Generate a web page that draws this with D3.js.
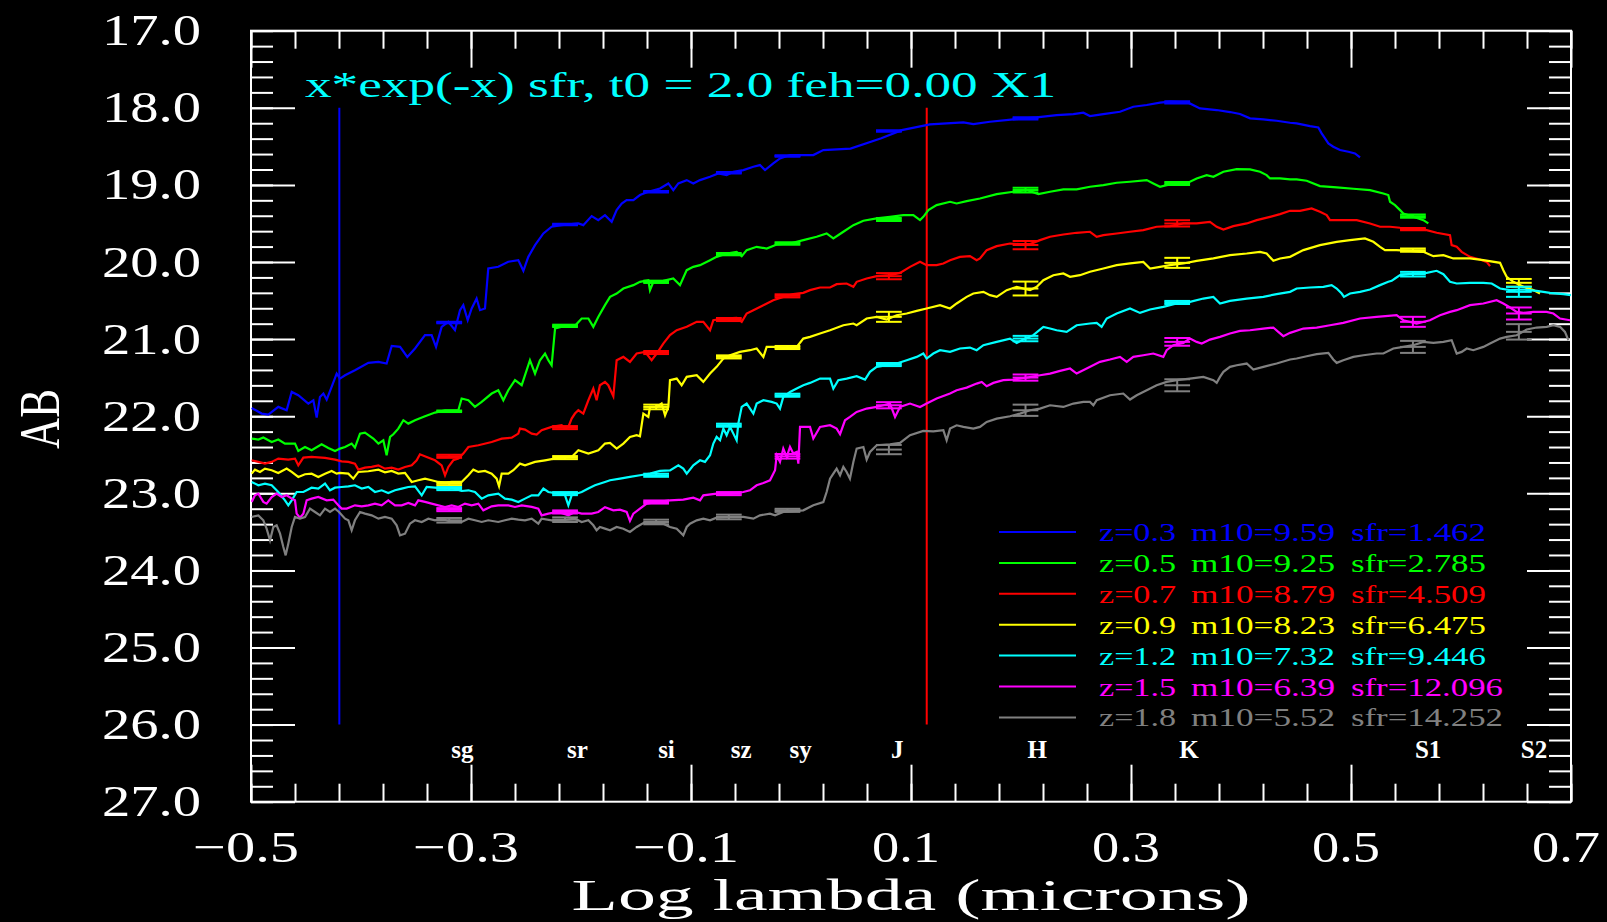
<!DOCTYPE html>
<html>
<head>
<meta charset="utf-8">
<script src="https://cdn.jsdelivr.net/npm/d3@7/dist/d3.min.js"></script>
<style>
html,body{margin:0;padding:0;background:#000;}
svg{display:block;}
</style>
</head>
<body>
<svg id="chart" width="1607" height="922"></svg>
<script>
// ---------------- DATA ----------------
const titleText = "x*exp(-x) sfr, t0 = 2.0 feh=0.00 X1";
const xAxisTitle = "Log lambda (microns)";
const yAxisTitle = "AB";

const xTickValues = [-0.5, -0.3, -0.1, 0.1, 0.3, 0.5, 0.7];
const xTickLabels = ["\u22120.5", "\u22120.3", "\u22120.1", "0.1", "0.3", "0.5", "0.7"];
const yTickValues = [17, 18, 19, 20, 21, 22, 23, 24, 25, 26, 27];
const yTickLabels = ["17.0", "18.0", "19.0", "20.0", "21.0", "22.0", "23.0", "24.0", "25.0", "26.0", "27.0"];

const bandNames = ["sg", "sr", "si", "sz", "sy", "J", "H", "K", "S1", "S2"];
const bandX = [-0.3198, -0.2145, -0.1317, -0.0656, -0.0123, 0.0799, 0.2041, 0.342, 0.5563, 0.6526];
const bandLabelMag = 26.43;
const bandHalfWidth = 0.0117;

const markerLineX = [-0.4197, 0.1143];
const markerLineMag = [18.0, 26.0];

const legendZ = ["z=0.3", "z=0.5", "z=0.7", "z=0.9", "z=1.2", "z=1.5", "z=1.8"];
const legendM10 = ["m10=9.59", "m10=9.25", "m10=8.79", "m10=8.23", "m10=7.32", "m10=6.39", "m10=5.52"];
const legendSfr = ["sfr=1.462", "sfr=2.785", "sfr=4.509", "sfr=6.475", "sfr=9.446", "sfr=12.096", "sfr=14.252"];

const specZ03 = [[-0.4994,21.893],[-0.4903,21.966],[-0.4842,21.979],[-0.4752,21.879],[-0.4676,21.923],[-0.4630,21.685],[-0.4570,21.728],[-0.4479,21.836],[-0.4433,21.793],[-0.4403,22.018],[-0.4373,21.750],[-0.4342,21.706],[-0.4312,21.784],[-0.4267,21.620],[-0.4221,21.447],[-0.4191,21.512],[-0.4145,21.469],[-0.4055,21.404],[-0.3933,21.308],[-0.3842,21.295],[-0.3767,21.317],[-0.3721,21.088],[-0.3645,21.101],[-0.3579,21.231],[-0.3509,21.122],[-0.3418,20.949],[-0.3358,20.949],[-0.3318,21.101],[-0.3267,20.841],[-0.3206,20.776],[-0.3146,20.884],[-0.3100,20.625],[-0.3070,20.560],[-0.3030,20.755],[-0.2994,20.603],[-0.2949,20.473],[-0.2918,20.625],[-0.2873,20.603],[-0.2843,20.084],[-0.2752,20.062],[-0.2661,19.997],[-0.2570,19.976],[-0.2524,20.114],[-0.2479,19.933],[-0.2418,19.781],[-0.2342,19.630],[-0.2267,19.543],[-0.2176,19.522],[-0.2024,19.500],[-0.1979,19.522],[-0.1903,19.405],[-0.1843,19.457],[-0.1782,19.392],[-0.1721,19.478],[-0.1676,19.327],[-0.1630,19.241],[-0.1585,19.197],[-0.1524,19.197],[-0.1464,19.132],[-0.1388,19.089],[-0.1282,19.046],[-0.1206,18.981],[-0.1161,19.068],[-0.1115,18.981],[-0.1039,18.938],[-0.0979,18.981],[-0.0918,18.938],[-0.0827,18.894],[-0.0752,18.851],[-0.0676,18.873],[-0.0615,18.830],[-0.0524,18.808],[-0.0433,18.765],[-0.0373,18.743],[-0.0327,18.808],[-0.0252,18.721],[-0.0191,18.656],[-0.0100,18.613],[0.0021,18.613],[0.0112,18.613],[0.0203,18.548],[0.0450,18.529],[0.0730,18.396],[0.0916,18.290],[0.1173,18.215],[0.1324,18.202],[0.1476,18.189],[0.1567,18.211],[0.1718,18.181],[0.1930,18.150],[0.2143,18.124],[0.2324,18.094],[0.2476,18.081],[0.2567,18.064],[0.2627,18.107],[0.2748,18.081],[0.2900,18.051],[0.3021,17.986],[0.3143,17.964],[0.3264,17.934],[0.3355,17.921],[0.3521,17.934],[0.3627,18.008],[0.3779,18.029],[0.3900,18.055],[0.3991,18.081],[0.4082,18.137],[0.4203,18.150],[0.4324,18.168],[0.4446,18.194],[0.4506,18.202],[0.4627,18.237],[0.4703,18.254],[0.4733,18.332],[0.4764,18.397],[0.4794,18.462],[0.4839,18.505],[0.4900,18.548],[0.4976,18.570],[0.5036,18.592],[0.5082,18.644]];

const specZ05 = [[-0.4994,22.290],[-0.4933,22.303],[-0.4888,22.277],[-0.4812,22.334],[-0.4752,22.303],[-0.4691,22.355],[-0.4600,22.355],[-0.4570,22.451],[-0.4509,22.399],[-0.4449,22.442],[-0.4358,22.364],[-0.4297,22.412],[-0.4236,22.451],[-0.4191,22.420],[-0.4145,22.399],[-0.4085,22.355],[-0.4055,22.407],[-0.4009,22.226],[-0.3964,22.213],[-0.3888,22.290],[-0.3842,22.355],[-0.3797,22.312],[-0.3767,22.507],[-0.3736,22.269],[-0.3706,22.234],[-0.3661,22.161],[-0.3615,22.052],[-0.3570,22.096],[-0.3509,22.052],[-0.3418,22.001],[-0.3327,21.953],[-0.3236,21.923],[-0.3115,21.923],[-0.3085,21.771],[-0.3024,21.793],[-0.2964,21.879],[-0.2903,21.815],[-0.2812,21.706],[-0.2752,21.663],[-0.2706,21.793],[-0.2661,21.663],[-0.2600,21.533],[-0.2539,21.598],[-0.2464,21.274],[-0.2418,21.447],[-0.2373,21.274],[-0.2327,21.187],[-0.2297,21.274],[-0.2267,21.339],[-0.2236,20.863],[-0.2145,20.828],[-0.2055,20.828],[-0.1994,20.733],[-0.1933,20.733],[-0.1888,20.841],[-0.1842,20.711],[-0.1782,20.560],[-0.1736,20.452],[-0.1676,20.409],[-0.1615,20.344],[-0.1524,20.300],[-0.1464,20.257],[-0.1388,20.236],[-0.1373,20.365],[-0.1342,20.257],[-0.1252,20.244],[-0.1161,20.214],[-0.1100,20.300],[-0.1039,20.106],[-0.0979,20.063],[-0.0918,20.041],[-0.0827,19.976],[-0.0767,19.933],[-0.0676,19.890],[-0.0585,19.868],[-0.0539,19.924],[-0.0494,19.846],[-0.0403,19.803],[-0.0312,19.825],[-0.0221,19.773],[-0.0100,19.760],[0.0021,19.716],[0.0142,19.673],[0.0233,19.630],[0.0294,19.695],[0.0385,19.608],[0.0476,19.522],[0.0567,19.465],[0.0688,19.435],[0.0809,19.414],[0.0930,19.392],[0.1021,19.392],[0.1082,19.457],[0.1112,19.414],[0.1158,19.327],[0.1233,19.262],[0.1355,19.219],[0.1415,19.241],[0.1506,19.210],[0.1627,19.176],[0.1779,19.119],[0.1930,19.089],[0.2052,19.067],[0.2158,19.119],[0.2264,19.089],[0.2385,19.059],[0.2506,19.059],[0.2627,19.024],[0.2749,19.003],[0.2870,18.972],[0.2991,18.959],[0.3143,18.938],[0.3203,18.981],[0.3264,19.024],[0.3324,19.003],[0.3415,18.981],[0.3536,18.959],[0.3597,18.916],[0.3688,18.873],[0.3749,18.894],[0.3840,18.830],[0.3961,18.795],[0.4082,18.799],[0.4173,18.830],[0.4233,18.873],[0.4264,18.916],[0.4355,18.916],[0.4446,18.929],[0.4506,18.929],[0.4597,18.946],[0.4718,19.016],[0.4870,19.033],[0.5021,19.050],[0.5173,19.067],[0.5294,19.111],[0.5339,19.132],[0.5355,19.219],[0.5400,19.262],[0.5446,19.327],[0.5476,19.370],[0.5567,19.414],[0.5658,19.457],[0.5703,19.500]];

const specZ07 = [[-0.4994,22.572],[-0.4933,22.593],[-0.4873,22.615],[-0.4812,22.593],[-0.4752,22.550],[-0.4661,22.563],[-0.4600,22.550],[-0.4570,22.637],[-0.4524,22.537],[-0.4449,22.528],[-0.4327,22.541],[-0.4236,22.563],[-0.4176,22.585],[-0.4115,22.593],[-0.4055,22.615],[-0.4024,22.693],[-0.3964,22.667],[-0.3903,22.658],[-0.3842,22.637],[-0.3782,22.680],[-0.3721,22.667],[-0.3661,22.693],[-0.3600,22.658],[-0.3539,22.637],[-0.3494,22.572],[-0.3464,22.494],[-0.3403,22.528],[-0.3327,22.572],[-0.3267,22.637],[-0.3236,22.767],[-0.3206,22.658],[-0.3161,22.572],[-0.3115,22.550],[-0.3070,22.485],[-0.3024,22.399],[-0.2933,22.377],[-0.2812,22.334],[-0.2721,22.291],[-0.2630,22.278],[-0.2570,22.226],[-0.2555,22.161],[-0.2509,22.174],[-0.2448,22.226],[-0.2403,22.238],[-0.2358,22.182],[-0.2267,22.139],[-0.2176,22.118],[-0.2145,22.161],[-0.2115,22.139],[-0.2085,22.031],[-0.2055,21.966],[-0.2024,21.923],[-0.1979,21.966],[-0.1933,21.793],[-0.1888,21.641],[-0.1858,21.793],[-0.1828,21.598],[-0.1782,21.555],[-0.1752,21.598],[-0.1706,21.741],[-0.1676,21.274],[-0.1615,21.231],[-0.1555,21.296],[-0.1494,21.187],[-0.1418,21.166],[-0.1358,21.274],[-0.1312,21.187],[-0.1252,21.058],[-0.1191,20.949],[-0.1130,20.885],[-0.1039,20.841],[-0.0948,20.776],[-0.0888,20.776],[-0.0827,20.885],[-0.0797,20.755],[-0.0706,20.733],[-0.0585,20.724],[-0.0539,20.776],[-0.0494,20.668],[-0.0433,20.625],[-0.0342,20.560],[-0.0252,20.495],[-0.0161,20.452],[-0.0070,20.417],[0.0021,20.400],[0.0082,20.365],[0.0173,20.331],[0.0264,20.331],[0.0324,20.288],[0.0415,20.279],[0.0476,20.322],[0.0506,20.257],[0.0597,20.214],[0.0688,20.184],[0.0809,20.171],[0.0900,20.141],[0.0991,20.063],[0.1082,19.998],[0.1142,20.041],[0.1233,20.041],[0.1294,20.019],[0.1355,19.976],[0.1445,19.933],[0.1536,19.924],[0.1597,19.976],[0.1627,19.954],[0.1688,19.846],[0.1779,19.794],[0.1900,19.760],[0.1991,19.768],[0.2082,19.768],[0.2173,19.716],[0.2264,19.673],[0.2385,19.643],[0.2506,19.621],[0.2627,19.608],[0.2688,19.673],[0.2749,19.652],[0.2870,19.630],[0.2991,19.608],[0.3112,19.587],[0.3233,19.543],[0.3355,19.535],[0.3476,19.500],[0.3597,19.500],[0.3718,19.479],[0.3779,19.543],[0.3840,19.578],[0.3930,19.535],[0.4052,19.500],[0.4143,19.457],[0.4264,19.414],[0.4355,19.379],[0.4446,19.336],[0.4536,19.336],[0.4642,19.305],[0.4718,19.349],[0.4779,19.392],[0.4809,19.457],[0.4930,19.457],[0.5052,19.457],[0.5173,19.500],[0.5264,19.543],[0.5355,19.543],[0.5446,19.556],[0.5567,19.565],[0.5688,19.587],[0.5779,19.621],[0.5900,19.652],[0.5915,19.781],[0.5961,19.803],[0.6006,19.868],[0.6082,19.933],[0.6173,19.967],[0.6233,19.998],[0.6264,20.054]];

const specZ09 = [[-0.4994,22.745],[-0.4964,22.693],[-0.4918,22.723],[-0.4873,22.680],[-0.4812,22.701],[-0.4752,22.736],[-0.4676,22.680],[-0.4630,22.723],[-0.4570,22.788],[-0.4509,22.753],[-0.4449,22.745],[-0.4388,22.788],[-0.4327,22.745],[-0.4267,22.710],[-0.4221,22.745],[-0.4191,22.736],[-0.4115,22.745],[-0.4070,22.810],[-0.4024,22.723],[-0.3933,22.714],[-0.3842,22.693],[-0.3782,22.727],[-0.3721,22.710],[-0.3661,22.745],[-0.3600,22.736],[-0.3539,22.853],[-0.3479,22.831],[-0.3418,22.810],[-0.3358,22.831],[-0.3297,22.853],[-0.3236,22.862],[-0.3176,22.853],[-0.3085,22.853],[-0.3024,22.766],[-0.2979,22.693],[-0.2933,22.723],[-0.2873,22.710],[-0.2812,22.745],[-0.2767,22.810],[-0.2745,22.909],[-0.2721,22.745],[-0.2661,22.745],[-0.2615,22.701],[-0.2555,22.615],[-0.2509,22.637],[-0.2418,22.593],[-0.2327,22.572],[-0.2206,22.541],[-0.2085,22.528],[-0.2024,22.442],[-0.1933,22.485],[-0.1842,22.442],[-0.1782,22.355],[-0.1736,22.347],[-0.1676,22.420],[-0.1615,22.355],[-0.1555,22.269],[-0.1494,22.247],[-0.1464,22.260],[-0.1433,21.966],[-0.1388,22.009],[-0.1373,21.880],[-0.1312,21.880],[-0.1267,21.836],[-0.1236,21.988],[-0.1206,21.880],[-0.1191,21.533],[-0.1130,21.512],[-0.1085,21.598],[-0.1039,21.490],[-0.0948,21.469],[-0.0888,21.555],[-0.0827,21.447],[-0.0767,21.360],[-0.0706,21.252],[-0.0645,21.209],[-0.0555,21.166],[-0.0464,21.144],[-0.0403,21.122],[-0.0342,21.231],[-0.0312,21.101],[-0.0221,21.101],[-0.0130,21.122],[-0.0039,21.101],[0.0021,20.993],[0.0082,20.971],[0.0173,20.928],[0.0264,20.885],[0.0385,20.820],[0.0476,20.798],[0.0506,20.820],[0.0597,20.733],[0.0688,20.711],[0.0779,20.746],[0.0870,20.690],[0.0961,20.668],[0.1052,20.634],[0.1142,20.603],[0.1264,20.560],[0.1355,20.603],[0.1415,20.538],[0.1506,20.452],[0.1567,20.409],[0.1658,20.387],[0.1718,20.430],[0.1779,20.452],[0.1870,20.365],[0.1961,20.322],[0.2082,20.365],[0.2143,20.322],[0.2203,20.236],[0.2294,20.171],[0.2385,20.149],[0.2446,20.192],[0.2536,20.171],[0.2627,20.127],[0.2749,20.084],[0.2870,20.041],[0.2991,20.019],[0.3112,19.998],[0.3173,20.084],[0.3264,20.063],[0.3355,20.041],[0.3476,20.019],[0.3597,19.985],[0.3749,19.954],[0.3900,19.911],[0.4052,19.890],[0.4173,19.868],[0.4233,19.890],[0.4294,19.985],[0.4355,19.954],[0.4446,19.933],[0.4567,19.846],[0.4718,19.781],[0.4870,19.738],[0.4991,19.716],[0.5127,19.695],[0.5203,19.738],[0.5264,19.803],[0.5309,19.846],[0.5415,19.846],[0.5537,19.855],[0.5658,19.868],[0.5749,19.924],[0.5840,19.911],[0.5930,19.954],[0.6082,19.954],[0.6203,19.976],[0.6355,20.011],[0.6385,20.106],[0.6415,20.192],[0.6476,20.257],[0.6567,20.322],[0.6658,20.365],[0.6718,20.409]];

const specZ12 = [[-0.4994,22.853],[-0.4933,22.896],[-0.4873,22.874],[-0.4812,22.896],[-0.4752,22.983],[-0.4691,23.091],[-0.4661,23.156],[-0.4630,23.091],[-0.4585,22.983],[-0.4524,22.983],[-0.4449,22.927],[-0.4388,22.939],[-0.4327,22.874],[-0.4282,22.961],[-0.4236,22.927],[-0.4176,22.918],[-0.4115,22.909],[-0.4055,22.896],[-0.3994,22.939],[-0.3933,22.918],[-0.3873,22.983],[-0.3812,22.961],[-0.3752,22.996],[-0.3691,22.961],[-0.3630,22.939],[-0.3570,22.918],[-0.3509,22.909],[-0.3448,23.026],[-0.3403,22.918],[-0.3327,22.927],[-0.3236,22.939],[-0.3176,22.927],[-0.3085,22.970],[-0.3024,22.961],[-0.2964,22.983],[-0.2903,23.069],[-0.2843,23.026],[-0.2752,23.004],[-0.2691,23.069],[-0.2630,23.082],[-0.2570,23.112],[-0.2509,23.069],[-0.2448,23.026],[-0.2388,23.026],[-0.2342,22.939],[-0.2297,22.983],[-0.2206,23.004],[-0.2145,23.026],[-0.2115,23.156],[-0.2085,23.026],[-0.1994,22.983],[-0.1933,22.939],[-0.1873,22.896],[-0.1782,22.853],[-0.1736,22.831],[-0.1645,22.810],[-0.1555,22.788],[-0.1464,22.766],[-0.1373,22.745],[-0.1282,22.710],[-0.1191,22.702],[-0.1115,22.637],[-0.1070,22.680],[-0.1039,22.745],[-0.0979,22.637],[-0.0918,22.572],[-0.0873,22.593],[-0.0827,22.507],[-0.0797,22.355],[-0.0767,22.269],[-0.0736,22.312],[-0.0706,22.161],[-0.0676,22.247],[-0.0645,22.139],[-0.0615,22.226],[-0.0585,22.312],[-0.0570,22.096],[-0.0539,21.879],[-0.0494,21.836],[-0.0433,21.966],[-0.0403,21.836],[-0.0342,21.793],[-0.0267,21.815],[-0.0221,21.836],[-0.0191,21.901],[-0.0161,21.750],[-0.0100,21.685],[-0.0039,21.642],[0.0021,21.598],[0.0082,21.568],[0.0173,21.512],[0.0264,21.512],[0.0294,21.642],[0.0339,21.533],[0.0415,21.512],[0.0506,21.482],[0.0582,21.525],[0.0627,21.425],[0.0688,21.360],[0.0779,21.339],[0.0870,21.317],[0.0961,21.274],[0.1052,21.231],[0.1112,21.187],[0.1142,21.252],[0.1203,21.187],[0.1264,21.144],[0.1355,21.166],[0.1445,21.122],[0.1536,21.110],[0.1597,21.144],[0.1658,21.079],[0.1779,21.036],[0.1900,20.993],[0.1961,21.049],[0.2021,21.006],[0.2112,20.949],[0.2203,20.841],[0.2264,20.863],[0.2324,20.885],[0.2415,20.906],[0.2506,20.820],[0.2627,20.798],[0.2688,20.789],[0.2733,20.841],[0.2779,20.733],[0.2870,20.668],[0.2991,20.603],[0.3082,20.660],[0.3173,20.616],[0.3294,20.582],[0.3415,20.538],[0.3536,20.517],[0.3658,20.474],[0.3749,20.452],[0.3809,20.538],[0.3900,20.504],[0.4052,20.474],[0.4203,20.452],[0.4324,20.417],[0.4446,20.387],[0.4506,20.344],[0.4627,20.331],[0.4749,20.322],[0.4824,20.300],[0.4870,20.344],[0.4915,20.409],[0.4936,20.452],[0.4991,20.409],[0.5082,20.387],[0.5173,20.357],[0.5264,20.300],[0.5339,20.257],[0.5370,20.244],[0.5400,20.214],[0.5446,20.171],[0.5567,20.149],[0.5688,20.140],[0.5779,20.114],[0.5840,20.158],[0.5900,20.257],[0.5961,20.279],[0.6082,20.270],[0.6203,20.270],[0.6279,20.279],[0.6355,20.344],[0.6446,20.365],[0.6567,20.357],[0.6688,20.374],[0.6809,20.400],[0.6931,20.417],[0.7000,20.430]];

const specZ15 = [[-0.4994,23.112],[-0.4964,23.026],[-0.4933,23.004],[-0.4888,23.112],[-0.4858,23.134],[-0.4812,23.048],[-0.4767,23.004],[-0.4721,23.048],[-0.4676,23.026],[-0.4630,23.069],[-0.4600,23.091],[-0.4585,23.264],[-0.4555,23.316],[-0.4524,23.264],[-0.4494,23.091],[-0.4449,23.069],[-0.4388,23.048],[-0.4312,23.091],[-0.4252,23.082],[-0.4206,23.156],[-0.4176,23.199],[-0.4130,23.199],[-0.4055,23.156],[-0.3994,23.169],[-0.3933,23.156],[-0.3873,23.134],[-0.3812,23.156],[-0.3752,23.091],[-0.3691,23.156],[-0.3630,23.156],[-0.3570,23.125],[-0.3509,23.156],[-0.3479,23.091],[-0.3418,23.112],[-0.3358,23.134],[-0.3297,23.156],[-0.3236,23.177],[-0.3176,23.156],[-0.3115,23.177],[-0.3055,23.134],[-0.2994,23.156],[-0.2933,23.134],[-0.2888,23.221],[-0.2812,23.169],[-0.2752,23.156],[-0.2661,23.156],[-0.2600,23.177],[-0.2539,23.156],[-0.2448,23.177],[-0.2388,23.199],[-0.2358,23.286],[-0.2297,23.264],[-0.2206,23.242],[-0.2115,23.286],[-0.2055,23.242],[-0.1994,23.264],[-0.1903,23.264],[-0.1843,23.242],[-0.1782,23.180],[-0.1706,23.221],[-0.1646,23.212],[-0.1585,23.242],[-0.1555,23.359],[-0.1524,23.264],[-0.1464,23.199],[-0.1403,23.134],[-0.1312,23.113],[-0.1191,23.091],[-0.1070,23.082],[-0.0979,23.056],[-0.0918,23.091],[-0.0888,23.026],[-0.0767,23.004],[-0.0645,23.004],[-0.0524,22.983],[-0.0464,22.961],[-0.0403,22.896],[-0.0342,22.866],[-0.0282,22.831],[-0.0236,22.701],[-0.0221,22.507],[-0.0191,22.593],[-0.0161,22.420],[-0.0130,22.528],[-0.0100,22.399],[-0.0070,22.485],[-0.0039,22.464],[-0.0024,22.615],[-0.0009,22.139],[0.0082,22.139],[0.0112,22.290],[0.0173,22.139],[0.0264,22.117],[0.0324,22.161],[0.0355,22.234],[0.0400,22.053],[0.0445,22.009],[0.0506,21.944],[0.0597,21.901],[0.0688,21.880],[0.0749,21.858],[0.0809,21.836],[0.0855,22.009],[0.0900,21.880],[0.0991,21.836],[0.1082,21.880],[0.1142,21.836],[0.1233,21.771],[0.1355,21.706],[0.1415,21.663],[0.1506,21.629],[0.1597,21.577],[0.1643,21.555],[0.1688,21.611],[0.1749,21.568],[0.1839,21.533],[0.1930,21.525],[0.2052,21.499],[0.2173,21.469],[0.2264,21.447],[0.2355,21.412],[0.2446,21.382],[0.2506,21.447],[0.2597,21.382],[0.2718,21.295],[0.2809,21.265],[0.2900,21.231],[0.2961,21.295],[0.3021,21.231],[0.3112,21.209],[0.3203,21.187],[0.3294,21.231],[0.3324,21.144],[0.3385,21.079],[0.3476,21.049],[0.3536,20.993],[0.3597,21.036],[0.3643,21.058],[0.3718,21.006],[0.3809,20.971],[0.3900,20.928],[0.3991,20.893],[0.4082,20.885],[0.4203,20.863],[0.4294,20.850],[0.4339,20.906],[0.4385,20.962],[0.4446,20.919],[0.4567,20.863],[0.4688,20.850],[0.4809,20.820],[0.4930,20.789],[0.5082,20.733],[0.5233,20.711],[0.5415,20.690],[0.5476,20.755],[0.5597,20.798],[0.5718,20.755],[0.5809,20.690],[0.5900,20.647],[0.5961,20.625],[0.6082,20.560],[0.6203,20.538],[0.6324,20.495],[0.6385,20.538],[0.6446,20.590],[0.6506,20.647],[0.6567,20.660],[0.6658,20.647],[0.6779,20.647],[0.6840,20.668],[0.6900,20.733],[0.6991,20.755]];

const specZ18 = [[-0.4994,23.307],[-0.4933,23.286],[-0.4888,23.350],[-0.4858,23.458],[-0.4827,23.610],[-0.4797,23.437],[-0.4767,23.415],[-0.4736,23.524],[-0.4706,23.697],[-0.4685,23.805],[-0.4661,23.653],[-0.4630,23.437],[-0.4600,23.307],[-0.4555,23.329],[-0.4509,23.307],[-0.4464,23.199],[-0.4418,23.242],[-0.4373,23.286],[-0.4327,23.199],[-0.4282,23.242],[-0.4236,23.199],[-0.4200,23.242],[-0.4145,23.329],[-0.4115,23.350],[-0.4085,23.480],[-0.4055,23.350],[-0.4009,23.242],[-0.3964,23.264],[-0.3903,23.286],[-0.3842,23.329],[-0.3782,23.307],[-0.3721,23.329],[-0.3676,23.415],[-0.3645,23.545],[-0.3600,23.524],[-0.3555,23.394],[-0.3509,23.350],[-0.3448,23.372],[-0.3388,23.329],[-0.3327,23.350],[-0.3267,23.329],[-0.3206,23.359],[-0.3146,23.372],[-0.3085,23.372],[-0.3024,23.329],[-0.2964,23.350],[-0.2903,23.372],[-0.2843,23.350],[-0.2752,23.372],[-0.2691,23.350],[-0.2630,23.329],[-0.2570,23.342],[-0.2509,23.350],[-0.2448,23.329],[-0.2388,23.394],[-0.2358,23.329],[-0.2267,23.350],[-0.2176,23.350],[-0.2055,23.329],[-0.1994,23.372],[-0.1933,23.350],[-0.1888,23.415],[-0.1858,23.480],[-0.1828,23.437],[-0.1782,23.458],[-0.1736,23.480],[-0.1676,23.437],[-0.1615,23.459],[-0.1555,23.502],[-0.1494,23.437],[-0.1433,23.385],[-0.1342,23.385],[-0.1252,23.394],[-0.1191,23.437],[-0.1130,23.459],[-0.1070,23.545],[-0.1039,23.437],[-0.1009,23.394],[-0.0948,23.351],[-0.0888,23.329],[-0.0827,23.351],[-0.0767,23.316],[-0.0645,23.307],[-0.0524,23.307],[-0.0433,23.329],[-0.0373,23.286],[-0.0282,23.264],[-0.0236,23.286],[-0.0161,23.242],[-0.0039,23.229],[0.0021,23.221],[0.0112,23.156],[0.0203,23.113],[0.0233,22.983],[0.0264,22.810],[0.0294,22.745],[0.0324,22.680],[0.0355,22.766],[0.0385,22.658],[0.0415,22.723],[0.0445,22.810],[0.0476,22.593],[0.0506,22.420],[0.0567,22.399],[0.0597,22.563],[0.0627,22.464],[0.0688,22.377],[0.0809,22.364],[0.0900,22.347],[0.0991,22.247],[0.1112,22.191],[0.1203,22.196],[0.1294,22.182],[0.1324,22.312],[0.1355,22.161],[0.1415,22.118],[0.1476,22.139],[0.1567,22.161],[0.1627,22.139],[0.1688,22.074],[0.1779,22.031],[0.1900,22.001],[0.1991,21.966],[0.2082,21.923],[0.2173,21.901],[0.2264,21.858],[0.2385,21.880],[0.2476,21.836],[0.2567,21.815],[0.2627,21.815],[0.2658,21.858],[0.2688,21.793],[0.2809,21.728],[0.2930,21.706],[0.2991,21.784],[0.3052,21.728],[0.3143,21.663],[0.3233,21.599],[0.3324,21.555],[0.3415,21.533],[0.3536,21.512],[0.3658,21.490],[0.3749,21.533],[0.3779,21.568],[0.3809,21.490],[0.3840,21.425],[0.3900,21.360],[0.3961,21.339],[0.4052,21.317],[0.4112,21.395],[0.4203,21.360],[0.4324,21.317],[0.4446,21.265],[0.4506,21.252],[0.4597,21.222],[0.4688,21.196],[0.4794,21.179],[0.4839,21.265],[0.4870,21.308],[0.4930,21.274],[0.5021,21.231],[0.5112,21.209],[0.5233,21.187],[0.5294,21.187],[0.5385,21.122],[0.5476,21.101],[0.5567,21.079],[0.5658,21.036],[0.5749,21.049],[0.5840,21.036],[0.5915,21.014],[0.5961,21.187],[0.6006,21.166],[0.6052,21.122],[0.6112,21.144],[0.6203,21.101],[0.6264,21.058],[0.6355,20.993],[0.6415,20.971],[0.6506,20.950],[0.6597,20.876],[0.6688,20.850],[0.6779,20.841],[0.6840,20.820],[0.6900,20.841],[0.6945,20.906],[0.6976,21.014]];

// photometry per band (sg, sr, si, sz, sy, J, H, K, S1, S2); null = not shown
const photZ03 = [20.785, 19.513, 19.089, 18.842, 18.626, 18.300, 18.137, 17.930, null, null];
const photZ05 = [21.936, 20.828, 20.257, 19.898, 19.760, 19.448, 19.067, 18.981, 19.405, null];
const photZ07 = [22.520, 22.148, 21.174, 20.746, 20.439, 20.184, 19.781, 19.500, 19.574, null];
const photZ09 = [22.875, 22.537, 21.880, 21.231, 21.109, 20.711, 20.344, 20.011, 19.846, 20.270];
const photZ12 = [22.939, 23.004, 22.766, 22.117, 21.728, 21.330, 20.993, 20.525, 20.158, 20.387];
const photZ15 = [23.212, 23.242, 23.113, 23.004, 22.520, 21.858, 21.499, 21.036, 20.776, 20.668];
const photZ18 = [23.350, 23.342, 23.372, 23.307, 23.221, 22.433, 21.923, 21.599, 21.101, 20.906];

const errZ03 = [0.01, 0.01, 0.01, 0.01, 0.01, 0.01, 0.015, 0.015, null, null];
const errZ05 = [0.01, 0.015, 0.015, 0.015, 0.015, 0.02, 0.03, 0.02, 0.02, null];
const errZ07 = [0.02, 0.02, 0.02, 0.02, 0.02, 0.04, 0.054, 0.04, 0.015, null];
const errZ09 = [0.02, 0.02, 0.03, 0.02, 0.02, 0.065, 0.09, 0.065, 0.02, 0.05];
const errZ12 = [0.02, 0.02, 0.02, 0.02, 0.02, 0.02, 0.035, 0.02, 0.03, 0.065];
const errZ15 = [0.02, 0.02, 0.02, 0.02, 0.03, 0.04, 0.04, 0.05, 0.065, 0.078];
const errZ18 = [0.03, 0.03, 0.03, 0.03, 0.02, 0.06, 0.073, 0.078, 0.078, 0.10];

// ---------------- STYLE ----------------
const seriesColors = ["#0000ff", "#00ff00", "#ff0000", "#ffff00", "#00ffff", "#ff00ff", "#808080"];
const markerLineColors = ["#0000ff", "#ff0000"];
const serif = "'Liberation Serif','DejaVu Serif',serif";

// ---------------- DRAW ----------------
const svg = d3.select("#chart");
svg.append("rect").attr("width", 1607).attr("height", 922).attr("fill", "#000");

const x = d3.scaleLinear().domain([-0.5, 0.7]).range([251, 1571]);
const y = d3.scaleLinear().domain([17, 27]).range([30.7, 801.7]);
const [X0, X1] = x.range();
const [Y0, Y1] = y.range();

svg.append("defs").append("clipPath").attr("id", "plotclip")
  .append("rect").attr("x", X0).attr("y", Y0).attr("width", X1 - X0).attr("height", Y1 - Y0);

const xMinor = d3.range(0, 31).map(i => -0.5 + i * 0.04);
const yMinor = d3.range(0, 51).map(i => 17 + i * 0.2);

function styleAxis(g) {
  g.select(".domain").remove();
  g.selectAll(".tick line").attr("stroke", "#fff").attr("stroke-width", 2);
  g.selectAll(".tick text").remove();
}
svg.append("g").attr("transform", `translate(0,${Y1})`)
  .call(d3.axisBottom(x).tickValues(xMinor).tickSize(-18).tickFormat("")).call(styleAxis);
svg.append("g").attr("transform", `translate(0,${Y1})`)
  .call(d3.axisBottom(x).tickValues(xTickValues).tickSize(-37).tickFormat("")).call(styleAxis);
svg.append("g").attr("transform", `translate(0,${Y0})`)
  .call(d3.axisTop(x).tickValues(xMinor).tickSize(-18).tickFormat("")).call(styleAxis);
svg.append("g").attr("transform", `translate(0,${Y0})`)
  .call(d3.axisTop(x).tickValues(xTickValues).tickSize(-37).tickFormat("")).call(styleAxis);
svg.append("g").attr("transform", `translate(${X0},0)`)
  .call(d3.axisLeft(y).tickValues(yMinor).tickSize(-22).tickFormat("")).call(styleAxis);
svg.append("g").attr("transform", `translate(${X0},0)`)
  .call(d3.axisLeft(y).tickValues(yTickValues).tickSize(-44).tickFormat("")).call(styleAxis);
svg.append("g").attr("transform", `translate(${X1},0)`)
  .call(d3.axisRight(y).tickValues(yMinor).tickSize(-22).tickFormat("")).call(styleAxis);
svg.append("g").attr("transform", `translate(${X1},0)`)
  .call(d3.axisRight(y).tickValues(yTickValues).tickSize(-44).tickFormat("")).call(styleAxis);

svg.append("rect").attr("x", X0).attr("y", Y0).attr("width", X1 - X0).attr("height", Y1 - Y0)
  .attr("fill", "none").attr("stroke", "#fff").attr("stroke-width", 2);

// tick labels
svg.append("g").selectAll("text").data(yTickValues).join("text")
  .attr("x", 201).attr("y", d => y(d) + 14.5)
  .attr("text-anchor", "end")
  .attr("font-family", serif).attr("font-size", 44).attr("fill", "#fff")
  .attr("textLength", 99).attr("lengthAdjust", "spacingAndGlyphs")
  .text((d, i) => yTickLabels[i]);

svg.append("g").selectAll("text").data(xTickValues).join("text")
  .attr("x", d => x(d) - 5).attr("y", 862)
  .attr("text-anchor", "middle")
  .attr("font-family", serif).attr("font-size", 44).attr("fill", "#fff")
  .attr("textLength", (d, i) => xTickLabels[i].length > 3 ? 106 : 68)
  .attr("lengthAdjust", "spacingAndGlyphs")
  .text((d, i) => xTickLabels[i]);

// axis titles
svg.append("text").attr("x", 911).attr("y", 910)
  .attr("text-anchor", "middle").attr("font-family", serif).attr("font-size", 44)
  .attr("fill", "#fff").attr("textLength", 679).attr("lengthAdjust", "spacingAndGlyphs")
  .text(xAxisTitle);
svg.append("text").attr("transform", "translate(59,419) rotate(-90)")
  .attr("text-anchor", "middle").attr("font-family", serif).attr("font-size", 58)
  .attr("fill", "#fff").attr("textLength", 60).attr("lengthAdjust", "spacingAndGlyphs")
  .text(yAxisTitle);

// title
svg.append("text").attr("x", 305).attr("y", 97)
  .attr("font-family", serif).attr("font-size", 36).attr("fill", "#00ffff")
  .attr("textLength", 751).attr("lengthAdjust", "spacingAndGlyphs")
  .text(titleText);

// band labels
svg.append("g").selectAll("text").data(bandX).join("text")
  .attr("x", d => x(d) + 2).attr("y", y(bandLabelMag))
  .attr("font-family", serif).attr("font-weight", "bold").attr("font-size", 25)
  .attr("fill", "#fff")
  .text((d, i) => bandNames[i]);

// vertical marker lines
svg.append("g").selectAll("line").data(markerLineX).join("line")
  .attr("x1", d => x(d)).attr("x2", d => x(d))
  .attr("y1", y(markerLineMag[0])).attr("y2", y(markerLineMag[1]))
  .attr("stroke", (d, i) => markerLineColors[i]).attr("stroke-width", 2);

// spectra
const spectra = [specZ03, specZ05, specZ07, specZ09, specZ12, specZ15, specZ18];
const phots = [photZ03, photZ05, photZ07, photZ09, photZ12, photZ15, photZ18];
const errs = [errZ03, errZ05, errZ07, errZ09, errZ12, errZ15, errZ18];

const line = d3.line().x(d => x(d[0])).y(d => y(d[1]));
const plot = svg.append("g").attr("clip-path", "url(#plotclip)");

spectra.forEach((s, k) => {
  plot.append("path").datum(s).attr("d", line)
    .attr("fill", "none").attr("stroke", seriesColors[k]).attr("stroke-width", 2.2);
});

// photometric markers
phots.forEach((p, k) => {
  const g = plot.append("g").attr("stroke", seriesColors[k]).attr("stroke-width", 2);
  p.forEach((m, b) => {
    if (m === null) return;
    const e = errs[k][b];
    const xa = x(bandX[b] - bandHalfWidth), xb = x(bandX[b] + bandHalfWidth), xc = x(bandX[b]);
    [m - e, m, m + e].forEach(v => {
      g.append("line").attr("x1", xa).attr("x2", xb).attr("y1", y(v)).attr("y2", y(v));
    });
    g.append("line").attr("x1", xc).attr("x2", xc).attr("y1", y(m - e)).attr("y2", y(m + e));
  });
});

// legend
const legend = svg.append("g");
const rowY0 = 532, rowStep = 30.9;
seriesColors.forEach((c, k) => {
  const yy = rowY0 + k * rowStep;
  legend.append("line").attr("x1", 999).attr("x2", 1076).attr("y1", yy).attr("y2", yy)
    .attr("stroke", c).attr("stroke-width", 2);
  const parts = [legendZ[k], legendM10[k], legendSfr[k]];
  const px = [1099, 1191, 1351];
  parts.forEach((t, j) => {
    const len = j === 0 ? 77 : j === 1 ? 144 : (t.length > 9 ? 152 : 135);
    legend.append("text").attr("x", px[j]).attr("y", yy + 9)
      .attr("font-family", serif).attr("font-size", 26).attr("fill", c)
      .attr("textLength", len).attr("lengthAdjust", "spacingAndGlyphs")
      .text(t);
  });
});
</script>
</body>
</html>
